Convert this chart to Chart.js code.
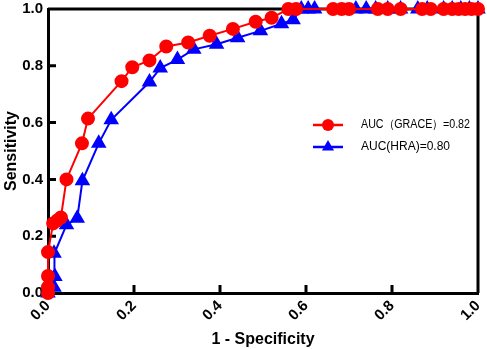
<!DOCTYPE html>
<html>
<head>
<meta charset="utf-8">
<script src="https://cdn.jsdelivr.net/npm/chart.js@4"></script>
<style>
  body { margin: 0; background: #fff; }
  #wrap { width: 487px; height: 349px; }
</style>
</head>
<body>
<div id="wrap"><canvas id="roc"></canvas></div>
<script>
// ROC points
const graceX = [0, 0, 0, 0, 0.012, 0.021, 0.030, 0.043, 0.079, 0.093, 0.171, 0.196, 0.236, 0.275, 0.326, 0.376, 0.430, 0.483, 0.520, 0.559, 0.577, 0.663, 0.683, 0.700, 0.767, 0.790, 0.820, 0.870, 0.890, 0.920, 0.940, 0.955, 0.970, 0.985, 1.0];
const graceY = [0, 0.02, 0.06, 0.144, 0.245, 0.255, 0.266, 0.40, 0.527, 0.614, 0.746, 0.795, 0.819, 0.868, 0.882, 0.906, 0.930, 0.955, 0.969, 1, 1, 1, 1, 1, 1, 1, 1, 1, 1, 1, 1, 1, 1, 1, 1];

const hraX = [0, 0.014, 0.016, 0.014, 0.043, 0.068, 0.080, 0.118, 0.147, 0.236, 0.261, 0.301, 0.339, 0.392, 0.441, 0.494, 0.543, 0.570, 0.589, 0.605, 0.620, 0.716, 0.740, 0.762, 0.790, 0.820, 0.860, 0.882, 0.920, 0.940, 0.960, 0.980, 1.0];
const hraY = [0, 0.02, 0.058, 0.14, 0.24, 0.263, 0.395, 0.527, 0.61, 0.743, 0.792, 0.822, 0.858, 0.876, 0.899, 0.923, 0.948, 0.962, 1, 1, 1, 1, 1, 1, 1, 1, 1, 1, 1, 1, 1, 1, 1];

const seriesNames = ['AUC（GRACE）=0.82', 'AUC(HRA)=0.80'];
const tickValues = [0, 0.2, 0.4, 0.6, 0.8, 1.0];

const FONT = "Arial, 'Liberation Sans', sans-serif";

function toPoints(xs, ys) {
  return xs.map((x, i) => ({ x: x, y: ys[i] }));
}

// box round the plot plus inward ticks
const framePlugin = {
  id: 'frame',
  beforeDatasetsDraw(chart) {
    const { ctx, chartArea: a, scales } = chart;
    ctx.save();
    ctx.strokeStyle = '#000';
    ctx.lineWidth = 3;
    ctx.beginPath();
    ctx.moveTo(a.left, a.top);
    ctx.lineTo(a.right, a.top);
    ctx.lineTo(a.right, a.bottom);
    ctx.stroke();
    ctx.beginPath();
    tickValues.slice(1, -1).forEach(v => {
      const px = scales.x.getPixelForValue(v);
      ctx.moveTo(px, a.bottom);
      ctx.lineTo(px, a.bottom - 8);
      const py = scales.y.getPixelForValue(v);
      ctx.moveTo(a.left, py);
      ctx.lineTo(a.left + 8, py);
    });
    ctx.stroke();
    ctx.restore();
  }
};

// legend placed inside the plot, as in the figure
const insideLegend = {
  id: 'insideLegend',
  afterDraw(chart) {
    const { ctx } = chart;
    const rows = [
      { y: 125, ds: chart.data.datasets[0], w: 109 },
      { y: 147, ds: chart.data.datasets[1], w: 90 }
    ];
    ctx.save();
    rows.forEach(r => {
      const c = r.ds.borderColor;
      ctx.strokeStyle = c;
      ctx.fillStyle = c;
      ctx.lineWidth = 2.5;
      ctx.beginPath();
      ctx.moveTo(313, r.y);
      ctx.lineTo(343, r.y);
      ctx.stroke();
      ctx.beginPath();
      if (r.ds.pointStyle === 'triangle') {
        const rad = 7;
        ctx.moveTo(328, r.y - rad);
        ctx.lineTo(328 + rad * 0.866, r.y + rad * 0.5);
        ctx.lineTo(328 - rad * 0.866, r.y + rad * 0.5);
        ctx.closePath();
      } else {
        ctx.arc(328, r.y, 6, 0, Math.PI * 2);
      }
      ctx.fill();
      ctx.fillStyle = '#000';
      ctx.font = '12px ' + FONT;
      ctx.textBaseline = 'middle';
      ctx.fillText(r.ds.label, 361, r.y, r.w);
    });
    ctx.restore();
  }
};

function noPad(s) {
  s.paddingLeft = 0;
  s.paddingRight = 0;
  s.paddingTop = 0;
  s.paddingBottom = 0;
}

const config_roc = {
  type: 'line',
  data: {
    datasets: [
      {
        label: seriesNames[0],
        data: toPoints(graceX, graceY),
        borderColor: 'rgb(255,0,0)',
        backgroundColor: 'rgb(255,0,0)',
        pointStyle: 'circle',
        pointRadius: 6,
        borderWidth: 2,
        clip: false
      },
      {
        label: seriesNames[1],
        data: toPoints(hraX, hraY),
        borderColor: 'rgb(0,0,255)',
        backgroundColor: 'rgb(0,0,255)',
        pointStyle: 'triangle',
        pointRadius: 7,
        borderWidth: 2,
        clip: false
      }
    ]
  },
  options: {
    responsive: true,
    maintainAspectRatio: false,
    animation: false,
    layout: { padding: { top: 6, right: 6, left: 0, bottom: 0 } },
    plugins: {
      legend: { display: false },
      tooltip: { enabled: false }
    },
    scales: {
      x: {
        type: 'linear',
        min: 0,
        max: 1,
        afterBuildTicks(s) { s.ticks = tickValues.map(v => ({ value: v })); },
        afterFit(s) { s.height = 56; noPad(s); },
        grid: { display: false, drawTicks: false },
        border: { display: true, color: '#000', width: 3 },
        ticks: {
          color: '#000',
          font: { family: FONT, size: 15, weight: 'bold' },
          minRotation: 45,
          maxRotation: 45,
          padding: 4,
          callback: v => v.toFixed(1)
        },
        title: {
          display: true,
          text: '1 - Specificity',
          color: '#000',
          font: { family: FONT, size: 16, weight: 'bold' },
          padding: { top: 0, bottom: 0 }
        }
      },
      y: {
        type: 'linear',
        min: 0,
        max: 1,
        afterBuildTicks(s) { s.ticks = tickValues.map(v => ({ value: v })); },
        afterFit(s) { s.width = 48; noPad(s); },
        grid: { display: false, drawTicks: false },
        border: { display: true, color: '#000', width: 3 },
        ticks: {
          color: '#000',
          font: { family: FONT, size: 15, weight: 'bold' },
          padding: 5,
          callback: v => v.toFixed(1)
        },
        title: {
          display: true,
          text: 'Sensitivity',
          color: '#000',
          font: { family: FONT, size: 16, weight: 'bold' },
          padding: { top: 2, bottom: 0 }
        }
      }
    }
  },
  plugins: [framePlugin, insideLegend]
};

const ctx_roc = document.getElementById('roc').getContext('2d');
const myChart_roc = new Chart(ctx_roc, config_roc);
</script>
</body>
</html>
